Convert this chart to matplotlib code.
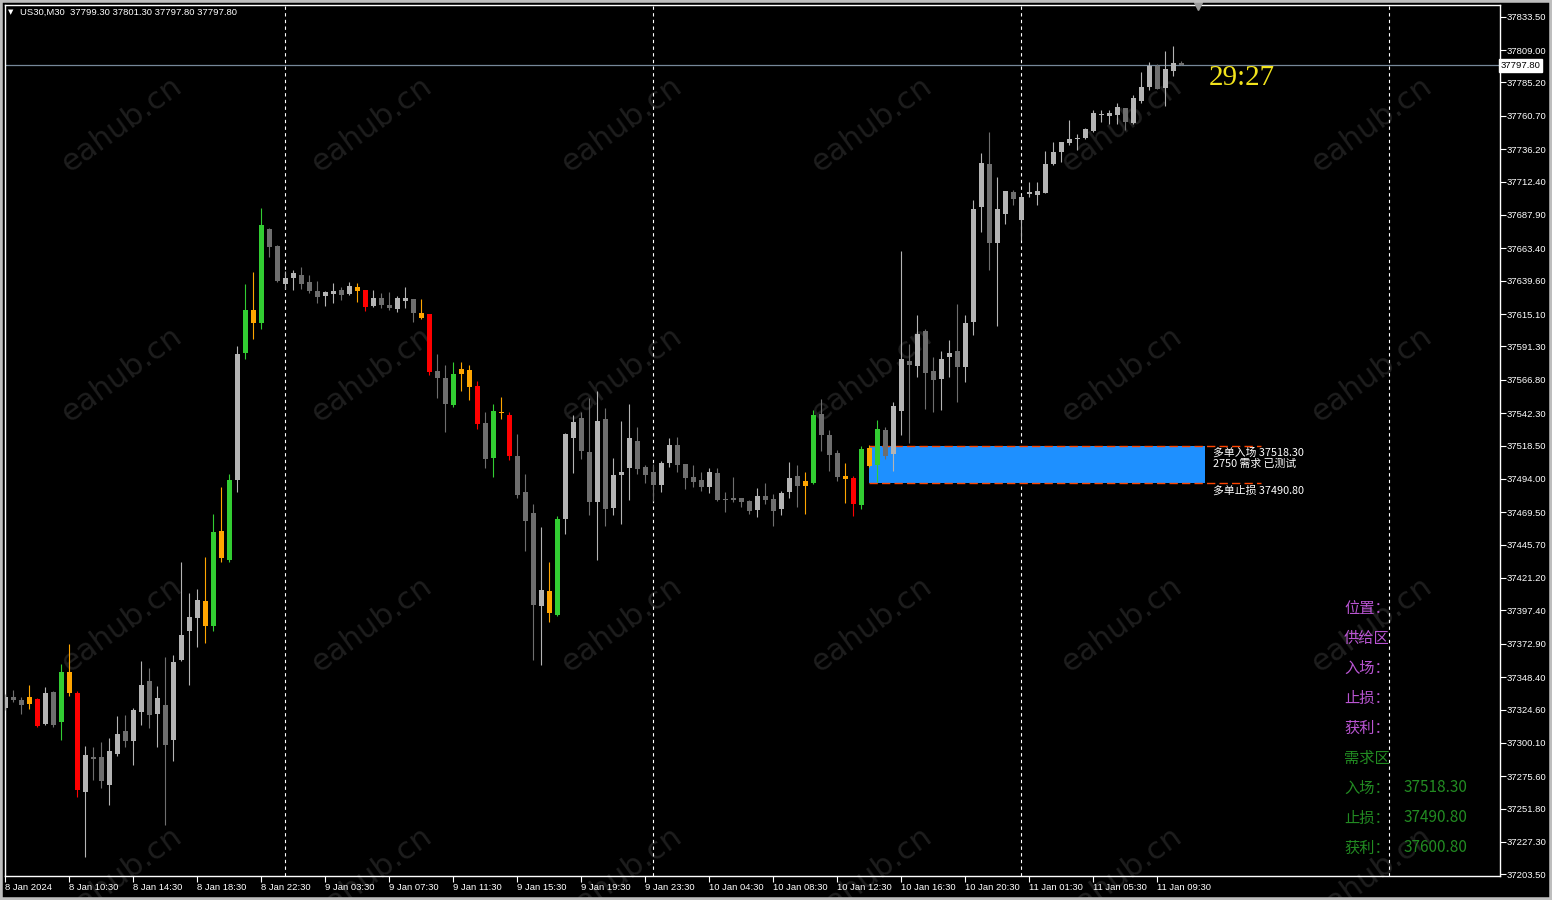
import matplotlib
matplotlib.use("Agg")
import matplotlib.pyplot as plt
from matplotlib.patches import Rectangle
import matplotlib.transforms as mtransforms

plt.rcParams['font.family'] = ['Liberation Sans', 'Noto Sans CJK SC', 'DejaVu Sans']
CJK = ['Noto Sans CJK SC', 'DejaVu Sans']

# US30 M30 svíčky (open, high, low, close)
opens = [
    37325.8, 37333.9, 37331.7, 37328.7, 37332.4, 37314.0, 37337.5, 37315.5, 37352.2, 37336.8,
    37264.1, 37289.8, 37289.8, 37269.2, 37292.0, 37308.9, 37301.5, 37322.8, 37345.6, 37321.4,
    37328.0, 37302.3, 37361.0, 37382.3, 37391.9, 37404.4, 37386.0, 37455.8, 37434.5, 37493.2,
    37586.5, 37618.1, 37608.6, 37677.6, 37665.1, 37637.2, 37641.6, 37643.8, 37638.7, 37632.1,
    37628.4, 37629.9, 37632.8, 37629.9, 37635.0, 37632.8, 37621.0, 37626.9, 37621.8, 37618.8,
    37624.7, 37626.2, 37615.9, 37615.2, 37573.3, 37568.2, 37548.3, 37574.8, 37574.0, 37562.3,
    37535.1, 37509.4, 37543.2, 37541.0, 37510.9, 37484.4, 37469.0, 37400.7, 37411.7, 37394.1,
    37464.6, 37524.1, 37538.8, 37513.8, 37477.1, 37538.0, 37472.7, 37496.9, 37502.1, 37521.9,
    37502.8, 37499.1, 37489.6, 37505.7, 37519.0, 37505.0, 37495.4, 37493.2, 37488.1, 37498.4,
    37479.3, 37480.0, 37480.0, 37477.8, 37471.2, 37481.5, 37479.3, 37471.9, 37484.4, 37496.2,
    37492.5, 37491.0, 37541.7, 37526.3, 37513.1, 37496.2, 37494.7, 37474.9, 37503.5, 37504.3,
    37530.0, 37512.3, 37543.9, 37580.6, 37577.0, 37602.7, 37573.3, 37567.4, 37583.6, 37588.0,
    37576.3, 37609.3, 37693.8, 37725.3, 37667.3, 37688.6, 37704.8, 37684.2, 37703.6, 37702.6,
    37704.0, 37725.3, 37734.2, 37740.8, 37743.9, 37744.4, 37749.6, 37761.2, 37760.6, 37761.3,
    37766.5, 37755.5, 37771.6, 37781.9, 37797.3, 37781.2, 37793.7, 37799.3]
highs = [
    37336.1, 37339.0, 37333.9, 37342.7, 37333.1, 37341.2, 37338.3, 37358.1, 37372.8, 37338.3,
    37297.9, 37297.1, 37300.8, 37303.7, 37319.9, 37320.6, 37325.8, 37360.3, 37355.2, 37341.9,
    37363.2, 37364.7, 37433.0, 37410.2, 37413.2, 37436.7, 37468.3, 37488.1, 37497.6, 37591.7,
    37637.2, 37646.0, 37693.0, 37678.3, 37665.8, 37646.7, 37647.5, 37649.7, 37643.8, 37639.4,
    37632.1, 37637.9, 37635.0, 37638.7, 37637.9, 37632.8, 37632.8, 37630.6, 37631.3, 37628.4,
    37635.0, 37626.2, 37626.2, 37615.2, 37585.8, 37577.7, 37579.9, 37579.9, 37577.7, 37566.0,
    37543.2, 37549.1, 37554.2, 37543.2, 37527.0, 37497.6, 37475.6, 37458.7, 37433.0, 37466.8,
    37527.8, 37541.0, 37543.2, 37553.5, 37558.6, 37546.1, 37509.4, 37536.6, 37549.1, 37532.2,
    37504.3, 37505.0, 37507.2, 37524.1, 37524.8, 37505.0, 37504.3, 37499.1, 37502.1, 37502.1,
    37484.4, 37495.4, 37480.0, 37478.6, 37487.4, 37491.0, 37483.0, 37485.2, 37506.5, 37504.3,
    37499.1, 37544.7, 37552.7, 37530.0, 37515.3, 37505.7, 37496.2, 37518.2, 37519.0, 37537.3,
    37532.2, 37550.5, 37661.4, 37593.1, 37614.4, 37604.2, 37583.6, 37588.0, 37596.1, 37622.5,
    37614.4, 37698.9, 37733.4, 37748.8, 37715.8, 37705.5, 37706.2, 37702.6, 37712.1, 37712.1,
    37734.9, 37741.5, 37741.5, 37757.7, 37747.4, 37751.8, 37765.0, 37765.0, 37765.0, 37770.1,
    37766.5, 37776.0, 37792.9, 37800.3, 37798.8, 37808.3, 37812.0, 37801.3]
lows = [
    37324.3, 37330.2, 37321.4, 37325.0, 37311.8, 37313.3, 37311.8, 37302.3, 37334.6, 37260.4,
    37216.3, 37272.9, 37267.0, 37254.5, 37290.5, 37297.1, 37283.9, 37313.3, 37311.1, 37297.1,
    37239.8, 37286.8, 37360.3, 37342.7, 37370.6, 37373.5, 37382.3, 37433.0, 37433.0, 37484.4,
    37582.1, 37596.8, 37604.2, 37657.0, 37638.7, 37633.5, 37632.8, 37633.5, 37630.6, 37623.3,
    37621.0, 37623.3, 37625.5, 37629.1, 37624.0, 37617.4, 37620.3, 37619.6, 37618.1, 37616.6,
    37619.6, 37609.3, 37611.5, 37570.4, 37553.5, 37528.5, 37546.9, 37558.6, 37551.8, 37530.7,
    37502.1, 37495.4, 37538.0, 37507.9, 37480.0, 37441.1, 37361.0, 37357.4, 37388.9, 37393.3,
    37453.6, 37498.4, 37508.7, 37467.5, 37434.5, 37459.5, 37467.5, 37460.9, 37478.6, 37497.6,
    37491.0, 37477.8, 37484.4, 37502.8, 37499.1, 37486.6, 37488.1, 37485.2, 37483.7, 37477.8,
    37469.7, 37477.1, 37473.4, 37468.3, 37466.1, 37475.6, 37459.5, 37467.5, 37480.0, 37473.4,
    37468.3, 37490.3, 37514.5, 37499.9, 37492.5, 37476.3, 37466.8, 37471.9, 37502.8, 37491.8,
    37508.7, 37499.9, 37526.3, 37520.4, 37568.9, 37545.4, 37543.2, 37544.7, 37568.9, 37550.5,
    37565.2, 37599.8, 37675.4, 37647.5, 37606.4, 37681.3, 37695.2, 37669.5, 37701.1, 37695.2,
    37704.0, 37724.6, 37726.8, 37739.3, 37735.6, 37743.7, 37748.8, 37756.2, 37754.7, 37754.7,
    37750.3, 37754.7, 37770.1, 37779.7, 37780.4, 37767.9, 37790.0, 37797.8]
closes = [
    37333.9, 37331.7, 37328.0, 37333.9, 37312.6, 37336.8, 37313.3, 37352.2, 37336.8, 37265.5,
    37291.3, 37288.3, 37272.2, 37294.2, 37306.7, 37301.5, 37324.3, 37342.7, 37320.6, 37333.1,
    37298.6, 37359.6, 37379.4, 37392.6, 37405.1, 37386.0, 37455.0, 37436.0, 37493.2, 37585.8,
    37618.1, 37608.6, 37680.5, 37664.4, 37639.4, 37641.6, 37645.3, 37637.2, 37632.1, 37627.7,
    37631.3, 37632.1, 37629.1, 37635.7, 37632.1, 37620.3, 37626.9, 37621.8, 37619.6, 37626.9,
    37626.9, 37615.9, 37612.2, 37572.6, 37568.2, 37549.1, 37571.1, 37571.1, 37561.5, 37534.4,
    37508.7, 37543.9, 37542.5, 37510.9, 37482.2, 37463.1, 37401.4, 37412.4, 37395.5, 37464.6,
    37527.0, 37535.8, 37514.5, 37477.1, 37536.6, 37471.9, 37496.9, 37499.1, 37524.1, 37501.3,
    37496.9, 37489.6, 37505.7, 37519.0, 37504.3, 37494.7, 37491.8, 37488.1, 37499.1, 37478.6,
    37478.6, 37478.6, 37477.1, 37470.5, 37481.5, 37478.6, 37470.5, 37483.7, 37494.7, 37488.8,
    37488.8, 37541.0, 37526.3, 37511.6, 37495.4, 37494.0, 37475.6, 37516.0, 37516.7, 37530.7,
    37510.9, 37547.6, 37582.1, 37577.7, 37600.5, 37571.8, 37566.7, 37582.1, 37586.5, 37576.3,
    37608.6, 37692.3, 37726.1, 37667.3, 37692.3, 37705.5, 37699.6, 37701.1, 37704.0, 37705.5,
    37725.3, 37734.2, 37741.5, 37743.7, 37744.4, 37751.0, 37762.8, 37761.6, 37762.8, 37767.2,
    37756.2, 37773.8, 37781.9, 37797.3, 37780.4, 37795.1, 37799.5, 37797.8]

# svíčky obarvené indikátorem
green_bars = [7, 26, 28, 30, 32, 56, 61, 69, 101, 107, 109]
red_bars = [4, 9, 45, 53, 59, 63, 106]
orange_bars = [3, 8, 25, 27, 31, 44, 52, 57, 58, 62, 68, 100, 105, 108]

time_labels = ["8 Jan 2024", "8 Jan 10:30", "8 Jan 14:30", "8 Jan 18:30", "8 Jan 22:30",
               "9 Jan 03:30", "9 Jan 07:30", "9 Jan 11:30", "9 Jan 15:30", "9 Jan 19:30",
               "9 Jan 23:30", "10 Jan 04:30", "10 Jan 08:30", "10 Jan 12:30", "10 Jan 16:30",
               "10 Jan 20:30", "11 Jan 01:30", "11 Jan 05:30", "11 Jan 09:30"]
label_step = 8
day_breaks = [35, 81, 127, 173]

price_ticks = [37833.50, 37809.00, 37785.20, 37760.70, 37736.20, 37712.40, 37687.90,
               37663.40, 37639.60, 37615.10, 37591.30, 37566.80, 37542.30, 37518.50,
               37494.00, 37469.50, 37445.70, 37421.20, 37397.40, 37372.90, 37348.40,
               37324.60, 37300.10, 37275.60, 37251.80, 37227.30, 37203.50]
bid = 37797.80

# zóna poptávky
zone_entry = 37518.30
zone_stop = 37490.80
zone_tp = 37600.80
zone_start, zone_end, zone_line_end = 108, 150, 157

panel_rows = [("位置：", "", "#BA55D3"), ("供给区", "", "#BA55D3"), ("入场：", "", "#BA55D3"),
              ("止损：", "", "#BA55D3"), ("获利：", "", "#BA55D3"), ("需求区", "", "#228B22"),
              ("入场：", f"{zone_entry:.2f}", "#228B22"), ("止损：", f"{zone_stop:.2f}", "#228B22"),
              ("获利：", f"{zone_tp:.2f}", "#228B22")]

W, H = 1552, 900
fig = plt.figure(figsize=(W / 100, H / 100), dpi=100, facecolor='black')
ax = fig.add_axes([5 / W, 24 / H, 1495 / W, 871 / H])
ax.set_facecolor('black')
ax.set_xlim(-0.04, 186.84)
ax.set_ylim(37202.3, 37842.1)

# barvy
colors = []
for i in range(len(opens)):
    c = '#B4B4B4' if closes[i] >= opens[i] else '#6E6E6E'
    if i in green_bars:
        c = '#32CD32'
    elif i in red_bars:
        c = '#FF0000'
    elif i in orange_bars:
        c = '#FFA500'
    colors.append(c)

xs = list(range(len(opens)))
ax.vlines(xs, lows, highs, colors=colors, linewidth=0.8, zorder=3)
bottoms = [min(o, c) for o, c in zip(opens, closes)]
heights = [max(abs(c - o), 0.8) for o, c in zip(opens, closes)]
ax.bar(xs, heights, bottom=bottoms, width=0.62, color=colors, linewidth=0, zorder=4)

# zóna
ax.add_patch(Rectangle((zone_start, zone_stop), zone_end - zone_start, zone_entry - zone_stop,
                       facecolor='#1E90FF', edgecolor='none', zorder=2))
ax.hlines([zone_entry, zone_stop], zone_start, zone_line_end, colors='#FF4500',
          linestyles=(0, (6, 3)), linewidth=1.0, zorder=2.5)
ax.annotate(f"多单入场 {zone_entry:.2f}", (zone_end + 1, zone_entry), xytext=(0, -1.5),
            textcoords='offset points', va='top', ha='left', color='white', fontsize=7.8, family=CJK)
ax.annotate("2750 需求 已测试", (zone_end + 1, zone_entry), xytext=(0, -9.5),
            textcoords='offset points', va='top', ha='left', color='white', fontsize=7.8, family=CJK)
ax.annotate(f"多单止损 {zone_stop:.2f}", (zone_end + 1, zone_stop), xytext=(0, -1.5),
            textcoords='offset points', va='top', ha='left', color='white', fontsize=7.8, family=CJK)

# oddělovače dnů a aktuální cena
for d in day_breaks:
    ax.axvline(d, color='white', linewidth=0.8, linestyle=(0, (3, 3)), zorder=1)
ax.axhline(bid, color='#778899', linewidth=0.9, zorder=1)

# osy
for s in ax.spines.values():
    s.set_color('white')
    s.set_linewidth(1)
ax.yaxis.tick_right()
ax.set_yticks(price_ticks)
ax.set_yticklabels([f"{v:.2f}" for v in price_ticks])
ax.set_xticks([i * label_step for i in range(len(time_labels))])
ax.set_xticklabels(time_labels, ha='left')
ax.tick_params(axis='both', colors='white', labelcolor='white', labelsize=6.8,
               length=4, width=0.8, direction='out', pad=1.0)
trans = mtransforms.blended_transform_factory(ax.transAxes, ax.transData)
ax.text(1.0005, bid, f"{bid:.2f}", transform=trans, va='center', ha='left', fontsize=6.8,
        color='black', bbox=dict(facecolor='white', edgecolor='white', pad=1.2), zorder=6,
        clip_on=False)

# vodoznak
for cx in range(122, 1500, 250):
    for cy in range(125, 900, 250):
        ax.text(cx / W, 1 - cy / H, "eahub.cn", transform=fig.transFigure, rotation=36,
                ha='center', va='center', fontsize=22, color='#1E1E1E', family='DejaVu Sans',
                zorder=0.5, clip_on=False)

# hlavička a odpočet
fig.text(8 / W, 1 - 12 / H, "▼", color='white', fontsize=5, va='center', family='DejaVu Sans')
fig.text(20 / W, 1 - 12 / H, "US30,M30  37799.30 37801.30 37797.80 37797.80", color='white',
         fontsize=6.8, va='center')
fig.text(1209 / W, 1 - 78 / H, "29:27", color='#F2E31C', fontsize=21, va='center',
         family='Liberation Serif')
ax.plot([1198 / W], [1 - 6 / H], transform=fig.transFigure, marker='v', color='#9A9A9A',
        markersize=6, clip_on=False, zorder=6)

# informační panel
for k, (lab, val, col) in enumerate(panel_rows):
    y = 1 - (608 + 30 * k) / H
    fig.text(1344 / W, y, lab, color=col, fontsize=11, va='center', family=CJK)
    if val:
        fig.text(1404 / W, y, val, color=col, fontsize=11, va='center', family=CJK)

fig.add_artist(Rectangle((0, 0), 1, 1, transform=fig.transFigure, fill=False,
                         edgecolor='#BEBEBE', linewidth=4))

fig.savefig("out.png", dpi=100, facecolor='black')
